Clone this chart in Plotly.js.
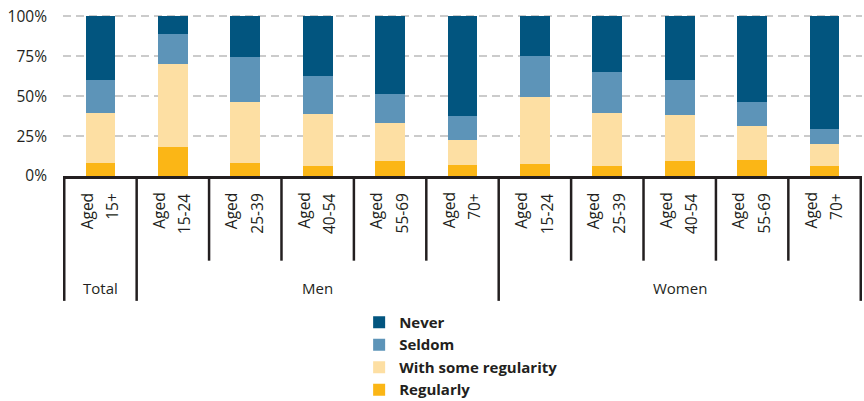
<!DOCTYPE html>
<html>
<head>
<meta charset="utf-8">
<script src="https://cdn.plot.ly/plotly-3.0.1.min.js"></script>
<style>html,body{margin:0;padding:0;background:#fff;}#chart{width:864px;height:401px;}</style>
</head>
<body>
<div id="chart"></div>
<script>
// ---- data ----
const categories = ["Total|15+","Men|15-24","Men|25-39","Men|40-54","Men|55-69","Men|70+",
                    "Women|15-24","Women|25-39","Women|40-54","Women|55-69","Women|70+"];
const tickLine1 = ["Aged","Aged","Aged","Aged","Aged","Aged","Aged","Aged","Aged","Aged","Aged"];
const tickLine2 = ["15+","15-24","25-39","40-54","55-69","70+","15-24","25-39","40-54","55-69","70+"];
const groupOf = ["Total","Men","Men","Men","Men","Men","Women","Women","Women","Women","Women"];
const groupNames = ["Total","Men","Women"];

const regularly = [8.0, 18.2, 8.0, 6.3, 9.2, 6.7, 7.4, 6.3, 9.2, 9.9, 6.3];
const someRegularity = [31.4, 52.2, 38.5, 32.5, 23.9, 15.8, 42.1, 33.1, 29.0, 21.4, 13.6];
const seldom = [20.8, 18.3, 28.2, 23.9, 18.3, 15.0, 25.8, 25.8, 22.0, 15.1, 9.5];
const never = [39.8, 11.3, 25.3, 37.3, 48.6, 62.5, 24.7, 34.8, 39.8, 53.6, 70.6];

const seriesNames = ["Regularly","With some regularity","Seldom","Never"];
const seriesValues = [regularly, someRegularity, seldom, never];
const seriesColors = ["#fbb616","#fddfa3","#5d94b8","#02557f"];

const yTicks = [0,25,50,75,100];
const yTickText = ["0%","25%","50%","75%","100%"];

// ---- styling ----
const ink = "#231f20";
const regFont = "'Open Sans', sans-serif";
const boldFont = "'Open Sans', sans-serif";

const W = 864, H = 401;
const M = {l:62.6, r:1.7, t:15.43, b:225.3};
const plotW = W - M.l - M.r, plotH = H - M.t - M.b;
const px2x = px => (px - M.l)/plotW;       // paper fraction from pixel x
const px2y = py => (H - M.b - py)/plotH;   // paper fraction from pixel y

const traces = seriesNames.map((n,i)=>({
  type:"bar", name:n, x:categories, y:seriesValues[i],
  marker:{color:seriesColors[i], line:{width:0}},
  hoverinfo:"skip"
}));

// separators at category boundaries
const shapes = [];
for (let i=0;i<=categories.length;i++){
  const left = i===0 ? null : groupOf[i-1];
  const right = i===categories.length ? null : groupOf[i];
  const isGroup = left!==right;
  shapes.push({type:"line", xref:"x", yref:"paper", x0:i-0.5, x1:i-0.5, y0:0,
               y1: isGroup ? px2y(300) : px2y(260),
               line:{color:ink, width:2.5}, layer:"above"});
}

const annotations = [];
// rotated category labels (two lines each)
categories.forEach((c,i)=>{
  [[tickLine1[i], -14],[tickLine2[i], 12]].forEach(([t,shift])=>{
    annotations.push({xref:"x", yref:"paper", x:c, y:px2y(190.5), xshift:shift, text:t,
      textangle:-90, showarrow:false, xanchor:"center", yanchor:"top",
      font:{family:regFont, size:15.5, color:ink}});
  });
});
// group labels
groupNames.forEach(g=>{
  const idx = groupOf.map((v,i)=>v===g?i:-1).filter(i=>i>=0);
  const c = (idx[0]+idx[idx.length-1])/2;
  annotations.push({xref:"x", yref:"paper", x:c, y:px2y(287), text:g, showarrow:false,
          xanchor:"center", yanchor:"middle", font:{family:regFont, size:15, color:ink}});
});

const layout = {
  width:W, height:H,
  margin:{l:M.l, r:M.r, t:M.t, b:M.b, autoexpand:false},
  paper_bgcolor:"#fff", plot_bgcolor:"#fff",
  barmode:"stack", bargap:0.59,
  showlegend:true,
  legend:{orientation:"v", xref:"paper", yref:"paper", x:px2x(359), y:px2y(305),
          xanchor:"left", yanchor:"top", traceorder:"reversed",
          font:{family:boldFont, size:15, color:ink, weight:"bold"}, bgcolor:"rgba(0,0,0,0)"},
  xaxis:{type:"category", categoryorder:"array", categoryarray:categories,
         showticklabels:false, ticks:"",
         showline:true, linecolor:ink, linewidth:3, showgrid:false, fixedrange:true,
         automargin:false},
  yaxis:{range:[0,100.8], tickmode:"array", tickvals:yTicks, ticktext:yTickText, ticks:"",
         tickfont:{family:regFont, size:15.5, color:ink}, ticklabelstandoff:15,
         showgrid:true, gridcolor:"#cbcbcb", gridwidth:1.8, griddash:"8px,5px",
         zeroline:false, showline:false, fixedrange:true, automargin:false},
  shapes:shapes, annotations:annotations
};

Plotly.newPlot("chart", traces, layout, {displayModeBar:false, staticPlot:true});
</script>
</body>
</html>
